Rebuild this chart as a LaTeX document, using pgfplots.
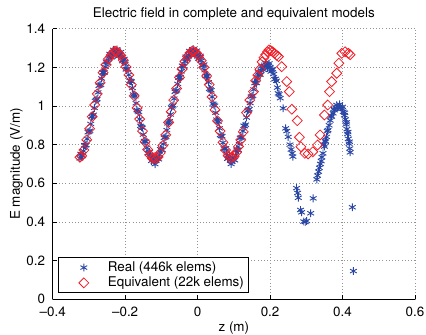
\documentclass[border=0pt]{standalone}
\usepackage{fontspec}
\setmainfont{TeX Gyre Heros}
\usepackage{pgfplots}
\pgfplotsset{compat=1.18}
\definecolor{mblue}{RGB}{42,70,165}
\definecolor{mred}{RGB}{240,30,40}
\pgfplotsset{myleg/.style={legend image code/.code={\path[draw=none,fill=none] (0bp,-4bp) (44bp,4bp);\draw[mark repeat=2,mark phase=2,##1] plot coordinates {(0bp,0bp)(22bp,0bp)(44bp,0bp)};}}}
\begin{document}
\begin{tikzpicture}[font=\fontsize{13.4bp}{16bp}\selectfont]
\begin{axis}[name=ax, scale only axis, width=362.3bp, height=270.7bp,
  xmin=-0.4, xmax=0.6, ymin=0, ymax=1.4,
  xtick={-0.4,-0.2,0,0.2,0.4,0.6}, xticklabels={--0.4,--0.2,0,0.2,0.4,0.6},
  ytick={0,0.2,0.4,0.6,0.8,1,1.2,1.4}, yticklabels={0,0.2,0.4,0.6,0.8,1,1.2,1.4},
  axis x line*=bottom, axis y line*=left,
  axis line style={line width=0.6bp,-},
  every outer x axis line/.append style={-},
  every outer y axis line/.append style={-},
  tick align=inside, major tick length=4bp, tick style={black, line width=0.6bp},
  xtick pos=lower, ytick pos=left,
  xticklabel style={inner sep=0pt, yshift=-7.4bp}, yticklabel style={inner sep=0pt, xshift=-7.4bp},
  grid=major, major grid style={gray!85, line width=0.5bp, dash pattern=on 0.7bp off 2.5bp},
  every axis title shift=0pt,
  title={Electric field in complete and equivalent models},
  title style={at={(axis description cs:0.5,1.054)}, anchor=center},
  xlabel={z (m)}, xlabel style={at={(axis description cs:0.5,-0.106)}, anchor=center},
  ylabel={E magnitude (V/m)}, ylabel style={at={(axis description cs:-0.1,0.5)}, anchor=center},
  legend style={at={(axis description cs:0.0155,0.0233)}, anchor=south west, draw=black, line width=1bp, fill=white, inner xsep=3bp, inner ysep=2bp, row sep=0pt, nodes={inner sep=2bp}, cells={anchor=west}},
]
\addplot[only marks, myleg, mark=asterisk, mark size=3.9bp, color=mblue, mark options={line width=0.9bp}] table {
-0.325 0.729
-0.320 0.744
-0.315 0.767
-0.310 0.796
-0.305 0.830
-0.300 0.867
-0.295 0.907
-0.290 0.948
-0.285 0.990
-0.280 1.031
-0.275 1.070
-0.270 1.107
-0.265 1.142
-0.260 1.173
-0.255 1.202
-0.250 1.226
-0.245 1.246
-0.240 1.261
-0.235 1.272
-0.230 1.278
-0.225 1.280
-0.220 1.276
-0.215 1.269
-0.210 1.256
-0.205 1.238
-0.200 1.217
-0.195 1.191
-0.190 1.161
-0.185 1.129
-0.180 1.093
-0.175 1.055
-0.170 1.014
-0.165 0.973
-0.160 0.932
-0.155 0.891
-0.150 0.852
-0.145 0.816
-0.140 0.784
-0.135 0.757
-0.130 0.737
-0.125 0.724
-0.120 0.712
-0.115 0.716
-0.110 0.728
-0.105 0.749
-0.100 0.773
-0.095 0.803
-0.090 0.837
-0.085 0.875
-0.080 0.915
-0.075 0.956
-0.070 0.998
-0.065 1.038
-0.060 1.077
-0.055 1.114
-0.050 1.148
-0.045 1.179
-0.040 1.207
-0.035 1.230
-0.030 1.249
-0.025 1.264
-0.020 1.274
-0.015 1.279
-0.010 1.279
-0.005 1.275
0.000 1.266
0.005 1.253
0.010 1.234
0.015 1.212
0.020 1.185
0.025 1.155
0.030 1.122
0.035 1.085
0.040 1.047
0.045 1.006
0.050 0.965
0.055 0.923
0.060 0.884
0.065 0.845
0.070 0.810
0.075 0.779
0.080 0.753
0.085 0.731
0.090 0.718
0.095 0.712
0.100 0.722
0.105 0.745
0.110 0.773
0.115 0.803
0.120 0.837
0.125 0.870
0.130 0.895
0.135 0.940
0.140 0.980
0.145 1.015
0.150 1.050
0.155 1.085
0.160 1.120
0.165 1.148
0.170 1.168
0.175 1.183
0.180 1.196
0.185 1.206
0.190 1.212
0.195 1.210
0.200 1.200
0.205 1.185
0.210 1.165
0.215 1.140
0.220 1.095
0.225 1.060
0.228 1.040
0.236 0.988
0.243 0.884
0.246 0.870
0.250 0.840
0.255 0.800
0.258 0.775
0.261 0.755
0.263 0.738
0.273 0.575
0.276 0.550
0.278 0.525
0.284 0.462
0.287 0.450
0.293 0.402
0.297 0.400
0.301 0.405
0.312 0.445
0.319 0.522
0.329 0.620
0.331 0.640
0.334 0.660
0.336 0.680
0.339 0.700
0.341 0.715
0.343 0.735
0.346 0.755
0.350 0.790
0.353 0.815
0.356 0.840
0.360 0.875
0.363 0.900
0.366 0.925
0.370 0.945
0.374 0.962
0.378 0.978
0.382 0.988
0.386 0.995
0.390 0.996
0.394 0.992
0.398 0.985
0.402 0.970
0.405 0.952
0.408 0.930
0.410 0.905
0.412 0.880
0.414 0.855
0.416 0.830
0.418 0.805
0.420 0.780
0.421 0.760
0.427 0.476
0.430 0.146
-0.3225 0.752
-0.3175 0.741
-0.3125 0.797
-0.3075 0.798
-0.3025 0.864
-0.2975 0.872
-0.2925 0.943
-0.2875 0.954
-0.2825 1.026
-0.2775 1.036
-0.2725 1.104
-0.2675 1.110
-0.2625 1.173
-0.2575 1.173
-0.2525 1.229
-0.2475 1.221
-0.2425 1.269
-0.2375 1.252
-0.2325 1.290
-0.2275 1.264
-0.2225 1.293
-0.2175 1.258
-0.2125 1.278
-0.2075 1.232
-0.2025 1.243
-0.1975 1.189
-0.1925 1.191
-0.1875 1.130
-0.1825 1.126
-0.1775 1.059
-0.1725 1.050
-0.1675 0.979
-0.1625 0.968
-0.1575 0.897
-0.1525 0.887
-0.1475 0.819
-0.1425 0.815
-0.1375 0.756
-0.1325 0.762
-0.1275 0.716
-0.1225 0.733
-0.1175 0.699
-0.1125 0.737
-0.1075 0.724
-0.1025 0.776
-0.0975 0.773
-0.0925 0.835
-0.0875 0.841
-0.0825 0.910
-0.0775 0.921
-0.0725 0.992
-0.0675 1.003
-0.0625 1.073
-0.0575 1.081
-0.0525 1.146
-0.0475 1.149
-0.0425 1.208
-0.0375 1.204
-0.0325 1.255
-0.0275 1.242
-0.0225 1.284
-0.0175 1.262
-0.0125 1.294
-0.0075 1.262
-0.0025 1.286
0.0025 1.245
0.0075 1.259
0.0125 1.208
0.0175 1.214
0.0225 1.155
0.0275 1.154
0.0325 1.089
0.0375 1.081
0.0425 1.012
0.0475 1.001
0.0525 0.929
0.0575 0.919
0.0625 0.850
0.0675 0.843
0.0725 0.780
0.0775 0.781
0.0825 0.727
0.0875 0.740
0.0925 0.700
0.0975 0.732
0.1025 0.719
0.1075 0.774
0.1125 0.773
0.1175 0.835
0.1225 0.839
0.1275 0.898
0.1325 0.903
0.1375 0.975
0.1425 0.983
0.1475 1.048
0.1525 1.053
0.1575 1.118
0.1625 1.119
0.1675 1.173
0.1725 1.161
0.1775 1.205
0.1825 1.186
0.1875 1.224
0.1925 1.196
0.1975 1.220
0.2025 1.178
0.2075 1.190
0.2125 1.138
0.2175 1.130
0.2225 1.065
0.348 0.800
0.352 0.820
0.358 0.870
0.368 0.950
0.376 0.985
0.384 1.005
0.392 1.008
0.400 0.995
0.406 0.965
0.411 0.915
0.415 0.865
0.419 0.815
};
\addlegendentry{Real (446k elems)}
\addplot[only marks, myleg, mark=square, mark size=3.5bp, color=mred, mark options={rotate=45, line width=0.8bp, fill=none}] table {
-0.325 0.735
-0.320 0.742
-0.314 0.772
-0.306 0.825
-0.298 0.882
-0.291 0.945
-0.284 1.005
-0.277 1.062
-0.269 1.120
-0.261 1.172
-0.253 1.213
-0.246 1.243
-0.239 1.263
-0.233 1.277
-0.228 1.283
-0.223 1.281
-0.218 1.273
-0.212 1.261
-0.205 1.236
-0.198 1.203
-0.190 1.160
-0.183 1.110
-0.175 1.052
-0.167 0.990
-0.160 0.932
-0.152 0.870
-0.145 0.815
-0.138 0.775
-0.131 0.745
-0.125 0.730
-0.120 0.732
-0.115 0.727
-0.109 0.736
-0.103 0.757
-0.096 0.795
-0.088 0.850
-0.080 0.915
-0.073 0.970
-0.066 1.030
-0.058 1.090
-0.050 1.148
-0.043 1.190
-0.035 1.230
-0.028 1.256
-0.021 1.274
-0.015 1.283
-0.010 1.281
-0.004 1.275
0.003 1.260
0.010 1.234
0.017 1.200
0.025 1.155
0.032 1.110
0.040 1.047
0.048 0.980
0.055 0.923
0.062 0.870
0.070 0.812
0.077 0.772
0.084 0.743
0.090 0.730
0.095 0.736
0.101 0.740
0.107 0.760
0.113 0.790
0.119 0.825
0.126 0.866
0.135 0.965
0.144 1.030
0.154 1.074
0.160 1.130
0.166 1.160
0.172 1.190
0.178 1.228
0.183 1.250
0.188 1.265
0.193 1.280
0.197 1.290
0.202 1.286
0.207 1.280
0.212 1.272
0.218 1.262
0.223 1.255
0.232 1.203
0.246 1.126
0.253 1.074
0.260 0.983
0.275 0.924
0.281 0.838
0.285 0.789
0.296 0.755
0.305 0.752
0.318 0.763
0.331 0.798
0.338 0.850
0.350 0.953
0.359 1.005
0.364 1.074
0.370 1.126
0.384 1.169
0.390 1.221
0.398 1.272
0.407 1.280
0.416 1.272
0.421 1.265
};
\addlegendentry{Equivalent (22k elems)}
\end{axis}
\pgfresetboundingbox
\path ([shift={(-52.7bp,-35.7bp)}]ax.south west) rectangle ([shift={(11bp,28.6bp)}]ax.north east);
\end{tikzpicture}
\end{document}
